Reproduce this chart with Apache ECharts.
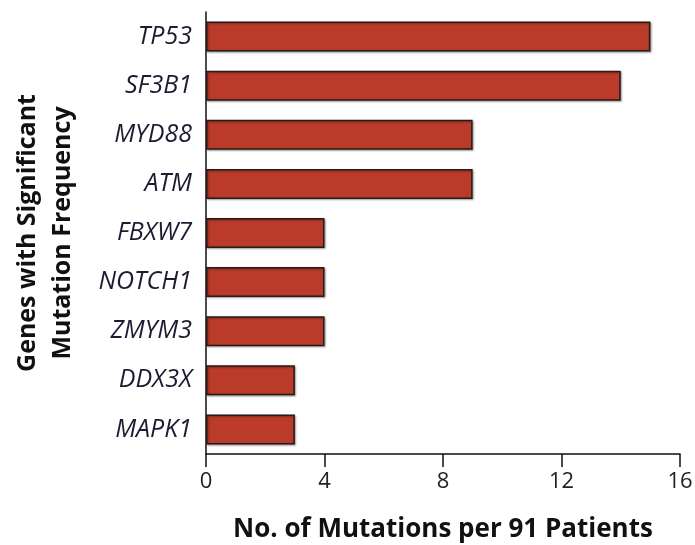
<!DOCTYPE html>
<html><head><meta charset="utf-8">
<script src="https://cdn.jsdelivr.net/npm/echarts@6/dist/echarts.min.js"></script>
<style>html,body{margin:0;padding:0;background:#fff}#c{width:695px;height:545px}</style>
</head><body><div id="c"></div>
<script>
const genes = ['TP53','SF3B1','MYD88','ATM','FBXW7','NOTCH1','ZMYM3','DDX3X','MAPK1'];
const mutations = [15,14,9,9,4,4,4,3,3];
const xTicks = [0,4,8,12,16];
const xTitle = 'No. of Mutations per 91 Patients';
const yTitle = 'Genes with Significant\nMutation Frequency';

const chart = echarts.init(document.getElementById('c'));
chart.setOption({
  animation:false,
  grid:{left:206,right:15,top:12,bottom:91,containLabel:false,outerBoundsMode:'none'},
  graphic:[{
    type:'text',x:443,y:530,silent:true,
    style:{text:xTitle,fontFamily:'Open Sans',fontWeight:'bold',fontSize:26,fill:'#111',
      align:'center',verticalAlign:'middle'}
  }],
  xAxis:{
    type:'value',min:xTicks[0],max:xTicks[xTicks.length-1],interval:4,
    axisLine:{show:true,lineStyle:{color:'#111',width:1.5}},
    axisTick:{show:true,length:13,lineStyle:{color:'#111',width:1.5}},
    splitLine:{show:false},
    axisLabel:{fontFamily:'Open Sans',fontSize:22,color:'#222',margin:17}
  },
  yAxis:{
    type:'category',data:genes,inverse:true,
    axisLine:{show:true,lineStyle:{color:'#111',width:1.5}},
    axisTick:{show:false},
    axisLabel:{fontFamily:'Open Sans',fontStyle:'italic',fontSize:25,color:'#1c1c30',margin:14},
    name:yTitle,nameLocation:'middle',nameGap:126,nameRotate:90,nameMoveOverlap:false,
    nameTextStyle:{fontFamily:'Open Sans',fontWeight:'bold',fontSize:25,color:'#111',lineHeight:35,align:'center'}
  },
  series:[{
    type:'bar',data:mutations,barWidth:30,
    itemStyle:{color:'#bb3b2a',borderColor:'#2a1a16',borderWidth:1.5,
      shadowColor:'rgba(0,0,0,0.35)',shadowBlur:2,shadowOffsetX:1,shadowOffsetY:1}
  }]
});
</script></body></html>
